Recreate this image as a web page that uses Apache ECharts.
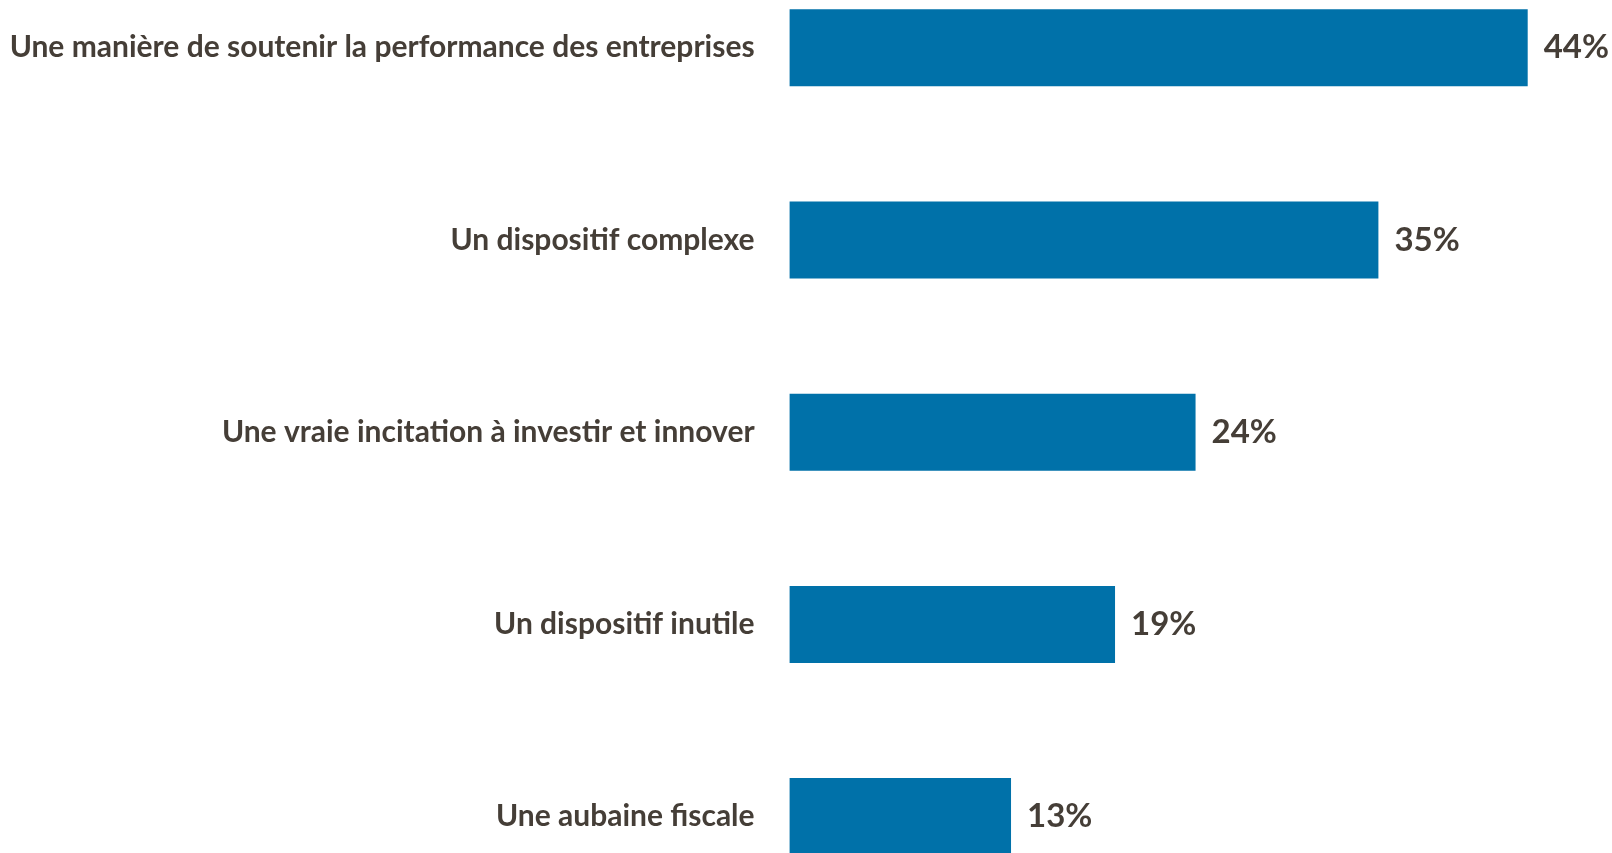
<!DOCTYPE html>
<html>
<head>
<meta charset="utf-8">
<script src="https://cdn.jsdelivr.net/npm/echarts@6/dist/echarts.min.js"></script>
<style>
html,body{margin:0;padding:0;background:#fff;}
#chart{width:1612px;height:853px;}
</style>
</head>
<body>
<div id="chart"></div>
<script>
const categories = [
  "Une manière de soutenir la performance des entreprises",
  "Un dispositif complexe",
  "Une vraie incitation à investir et innover",
  "Un dispositif inutile",
  "Une aubaine fiscale"
];
// bar lengths (labels show them rounded)
const values = [44, 35.1, 24.2, 19.4, 13.2];

const textColor = '#453e37';
const chart = echarts.init(document.getElementById('chart'));
chart.setOption({
  animation: false,
  backgroundColor: '#ffffff',
  grid: {
    left: 789.6,
    right: 84.3,
    top: -48.3,
    bottom: -59.7,
    containLabel: false,
    outerBoundsMode: 'none'
  },
  xAxis: {
    type: 'value',
    min: 0,
    max: 44,
    show: false
  },
  yAxis: {
    type: 'category',
    data: categories,
    inverse: true,
    axisLine: { show: false },
    axisTick: { show: false },
    splitLine: { show: false },
    axisLabel: {
      margin: 35,
      color: textColor,
      fontFamily: 'Lato',
      fontWeight: 'bold',
      fontSize: 30
    }
  },
  series: [{
    type: 'bar',
    data: values,
    barWidth: 77,
    itemStyle: { color: '#0071a9' },
    label: {
      show: true,
      position: 'right',
      distance: 16,
      formatter: function (p) { return Math.round(p.value) + '%'; },
      color: textColor,
      fontFamily: 'Lato',
      fontWeight: 'bold',
      fontSize: 33
    }
  }]
});
</script>
</body>
</html>
